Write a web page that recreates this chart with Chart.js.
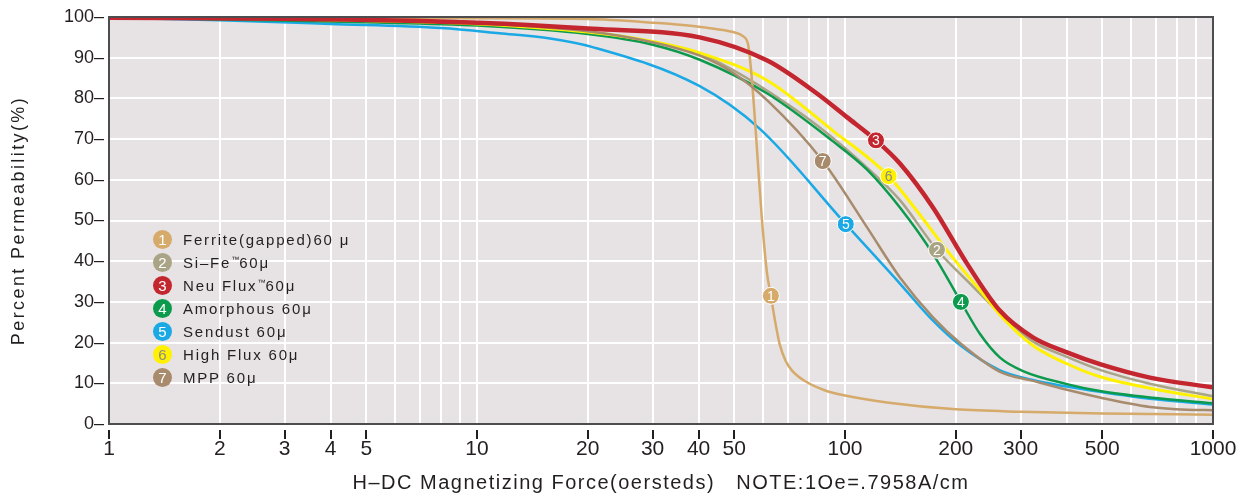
<!DOCTYPE html>
<html>
<head>
<meta charset="utf-8">
<title>Permeability vs DC Magnetizing Force</title>
<script src="https://cdn.jsdelivr.net/npm/chart.js@4.4.1/dist/chart.umd.min.js"></script>
<style>
  body { margin: 0; background: #fff; }
  #wrap { position: relative; width: 1251px; height: 497px; }
  #legend {
    position: absolute; left: 153px; top: 228px;
    font-family: 'Liberation Sans', Arial, sans-serif; font-size: 15px;
    letter-spacing: 1.8px; color: #231f20;
  }
  .row { height: 23px; display: flex; align-items: center; }
  .dot {
    width: 19px; height: 19px; border-radius: 50%; margin-right: 11px;
    color: #fff; font-size: 15px; line-height: 19px; text-align: center; letter-spacing: 0;
  }
  .tm { font-size: 8px; vertical-align: 6px; letter-spacing: 0; }
</style>
</head>
<body>
<div id="wrap">
  <canvas id="chart" width="1251" height="497"></canvas>
  <div id="legend"></div>
</div>
<script>
// ====== DATA ======
const xGrid = [1,2,3,4,5,6,7,8,9,10,20,30,40,50,60,70,80,90,100,200,300,400,500,600,700,800,900,1000];
const xLabels = [1,2,3,4,5,10,20,30,40,50,100,200,300,500,1000];

const seriesNames = ['Ferrite(gapped)60 μ', 'Si–Fe™60μ', 'Neu Flux™60μ', 'Amorphous 60μ', 'Sendust 60μ', 'High Flux 60μ', 'MPP 60μ'];
const seriesColors = ['#d5aa6a', '#aaa486', '#c3262e', '#0c9a4c', '#1aa9e4', '#fff100', '#a78b6c'];

// H (oersteds) / percent permeability
const ferriteH  = [1, 5, 10, 20, 30, 38.6, 45, 49.6, 52.8, 54.6, 55.8, 56.9, 58.2, 59.5, 61.4, 62.9, 64.5, 66.5, 69, 72, 78, 88, 100, 130, 200, 300, 500, 1000];
const ferriteMu = [100, 99.8, 99.7, 99.5, 98.6, 97.8, 97, 96.3, 95.3, 93, 85, 75, 62, 50, 37, 31.5, 25.5, 19.5, 15.5, 13, 10.5, 8.3, 7, 5.3, 3.6, 3, 2.6, 2.3];

const sifeH  = [1, 3, 10, 20, 30, 40.3, 75.6, 114.8, 141, 177.8, 214.6, 263.8, 324, 401, 493, 674, 1000];
const sifeMu = [100, 99.5, 98.4, 96.4, 93.8, 91, 76.4, 63, 55, 42.8, 35.2, 27.2, 20.3, 16.5, 13.3, 9.9, 6.8];

const neuH  = [1, 3, 10, 20.6, 40.3, 61.5, 83.9, 101.2, 121.4, 141, 173.4, 214.6, 263.8, 324, 401, 493, 674, 1000];
const neuMu = [99.8, 99.6, 98.6, 97.1, 95, 89.3, 81.2, 75.4, 69.7, 64, 53.2, 39.4, 27.8, 21.3, 17.6, 14.7, 11.4, 9.0];

const amorH  = [1, 2, 5, 10, 20, 30, 40.3, 61.5, 92.6, 114.8, 141, 173.4, 206.5, 232.8, 263.8, 304.6, 401, 493, 674, 1000];
const amorMu = [100, 99.4, 98.7, 97.9, 95.8, 93.2, 89.5, 81.2, 69.5, 62.5, 53.2, 41.8, 30, 22.1, 16.3, 13, 9.8, 8.1, 6.5, 5.1];

const sendH  = [1, 2, 4, 8, 11.5, 15.8, 20.6, 40.3, 58.7, 100.5, 141, 170, 206.5, 263.8, 324, 401, 493, 674, 1000];
const sendMu = [99.8, 99.2, 98.3, 97.3, 96, 94.7, 92.6, 83, 72.5, 49.1, 34.5, 26.2, 19.2, 13.2, 10.8, 9.2, 7.9, 6.2, 4.8];

const highH  = [1, 3, 10, 20, 30, 40.3, 61.5, 92.6, 131.4, 156.7, 192.6, 237, 263.8, 324, 401, 493, 674, 1000];
const highMu = [100, 99.5, 98.3, 96.3, 94, 91.2, 84.4, 72.1, 60.9, 52.4, 41.8, 32, 26.8, 19.3, 14.8, 11.6, 8.8, 6.1];

const mppH  = [1, 5, 10, 20, 30, 40.3, 49.6, 61.5, 87, 114.8, 141, 173.4, 206.5, 263.8, 324, 401, 493, 674, 850, 1000];
const mppMu = [100, 99.3, 98.5, 96.5, 93.8, 90.5, 86.3, 79.5, 64.6, 48.3, 36, 26.2, 19.7, 12.8, 10.6, 8.4, 6.5, 4.2, 3.5, 3.4];

// numbered markers sitting on the curves
const markerH  = [62.9, 177.8, 121.4, 206.5, 100.5, 131.4, 87];
const markerMu = [31.5, 42.8, 69.7, 30, 49.1, 60.9, 64.6];

const allH  = [ferriteH, sifeH, neuH, amorH, sendH, highH, mppH];
const allMu = [ferriteMu, sifeMu, neuMu, amorMu, sendMu, highMu, mppMu];
const lineWidths = [2.5, 2.5, 4.5, 2.5, 2.5, 3, 2.5];
const drawOrder  = [2, 5, 0, 4, 6, 3, 1];

const FONT = "'Liberation Sans', Arial, Helvetica, sans-serif";

// ====== LEGEND (html) ======
const legendEl = document.getElementById('legend');
seriesNames.forEach((name, i) => {
  const row = document.createElement('div');
  row.className = 'row';
  const dot = document.createElement('span');
  dot.className = 'dot';
  dot.style.background = seriesColors[i];
  if (i === 5) dot.style.color = '#8a8a8a';
  dot.textContent = i + 1;
  const txt = document.createElement('span');
  txt.innerHTML = name.replace('™', '<span class="tm">™</span>');
  row.appendChild(dot);
  row.appendChild(txt);
  legendEl.appendChild(row);
});

// ====== PLUGINS ======
const plotBackground = {
  id: 'plotBackground',
  beforeDraw(chart) {
    const { ctx, chartArea: a } = chart;
    ctx.save();
    ctx.fillStyle = '#e7e2e4';
    ctx.fillRect(a.left, a.top, a.right - a.left, a.bottom - a.top);
    ctx.restore();
  }
};

const frameAndMarks = {
  id: 'frameAndMarks',
  afterDatasetsDraw(chart) {
    const { ctx, chartArea: a, scales } = chart;
    ctx.save();
    // frame
    ctx.strokeStyle = '#4d4d4f';
    ctx.lineWidth = 2;
    ctx.strokeRect(a.left, a.top, a.right - a.left, a.bottom - a.top);

    // x tick marks below the axis (only labelled values)
    ctx.strokeStyle = '#231f20';
    ctx.lineWidth = 2;
    xLabels.forEach(v => {
      const px = Math.round(scales.x.getPixelForValue(v));
      ctx.beginPath();
      ctx.moveTo(px, a.bottom + 6);
      ctx.lineTo(px, a.bottom + 15);
      ctx.stroke();
    });

    // numbered markers on the curves
    markerH.forEach((h, i) => {
      const px = scales.x.getPixelForValue(h);
      const py = scales.y.getPixelForValue(markerMu[i]);
      ctx.beginPath();
      ctx.arc(px, py, 8.5, 0, Math.PI * 2);
      ctx.fillStyle = seriesColors[i];
      ctx.fill();
      ctx.lineWidth = 1;
      ctx.strokeStyle = '#ffffff';
      ctx.stroke();
      ctx.fillStyle = i === 5 ? '#8a8a8a' : '#ffffff';
      ctx.font = '14px ' + FONT;
      ctx.textAlign = 'center';
      ctx.textBaseline = 'middle';
      ctx.fillText(String(i + 1), px, py + 1);
    });
    ctx.restore();
  },
  afterDraw(chart) {
    const { ctx, chartArea: a } = chart;
    ctx.save();
    ctx.fillStyle = '#231f20';
    ctx.textAlign = 'center';
    ctx.textBaseline = 'middle';
    // y title
    ctx.font = '18px ' + FONT;
    ctx.letterSpacing = '2.4px';
    ctx.translate(19, (a.top + a.bottom) / 2);
    ctx.rotate(-Math.PI / 2);
    ctx.fillText('Percent Permeability(%)', 0, 0);
    ctx.restore();

    ctx.save();
    ctx.fillStyle = '#231f20';
    ctx.textAlign = 'center';
    ctx.textBaseline = 'middle';
    ctx.font = '20px ' + FONT;
    ctx.letterSpacing = '1.5px';
    ctx.fillText('H–DC Magnetizing Force(oersteds)   NOTE:1Oe=.7958A/cm', (a.left + a.right) / 2, 483);
    ctx.restore();
  }
};

// ====== CHART ======
const datasets = seriesNames.map((name, i) => ({
  label: name,
  data: allH[i].map((h, k) => ({ x: h, y: allMu[i][k] })),
  borderColor: seriesColors[i],
  borderWidth: lineWidths[i],
  pointRadius: 0,
  fill: false,
  cubicInterpolationMode: 'monotone',
  order: drawOrder[i]
}));

new Chart(document.getElementById('chart'), {
  type: 'line',
  data: { datasets },
  options: {
    responsive: false,
    devicePixelRatio: 1,
    animation: false,
    events: [],
    layout: { padding: { top: 17, right: 38, left: 0, bottom: 0 } },
    plugins: { legend: { display: false }, tooltip: { enabled: false } },
    scales: {
      x: {
        type: 'logarithmic',
        min: 1,
        max: 1000,
        afterBuildTicks: s => { s.ticks = xGrid.map(v => ({ value: v })); },
        afterFit: s => { s.height = 73; },
        border: { display: false },
        grid: { color: '#ffffff', lineWidth: 2, drawTicks: false },
        ticks: {
          autoSkip: false,
          maxRotation: 0,
          padding: 13,
          color: '#231f20',
          font: { family: FONT, size: 21 },
          callback: v => xLabels.includes(v) ? String(v) : ''
        }
      },
      y: {
        min: 0,
        max: 100,
        afterFit: s => { s.width = 109; },
        border: { display: false },
        grid: { color: '#ffffff', lineWidth: 2, drawTicks: false },
        ticks: {
          stepSize: 5,
          padding: 5,
          color: '#231f20',
          font: { family: FONT, size: 18 },
          callback: v => v % 10 === 0 ? v + '–' : ''
        }
      }
    }
  },
  plugins: [plotBackground, frameAndMarks]
});
</script>
</body>
</html>
